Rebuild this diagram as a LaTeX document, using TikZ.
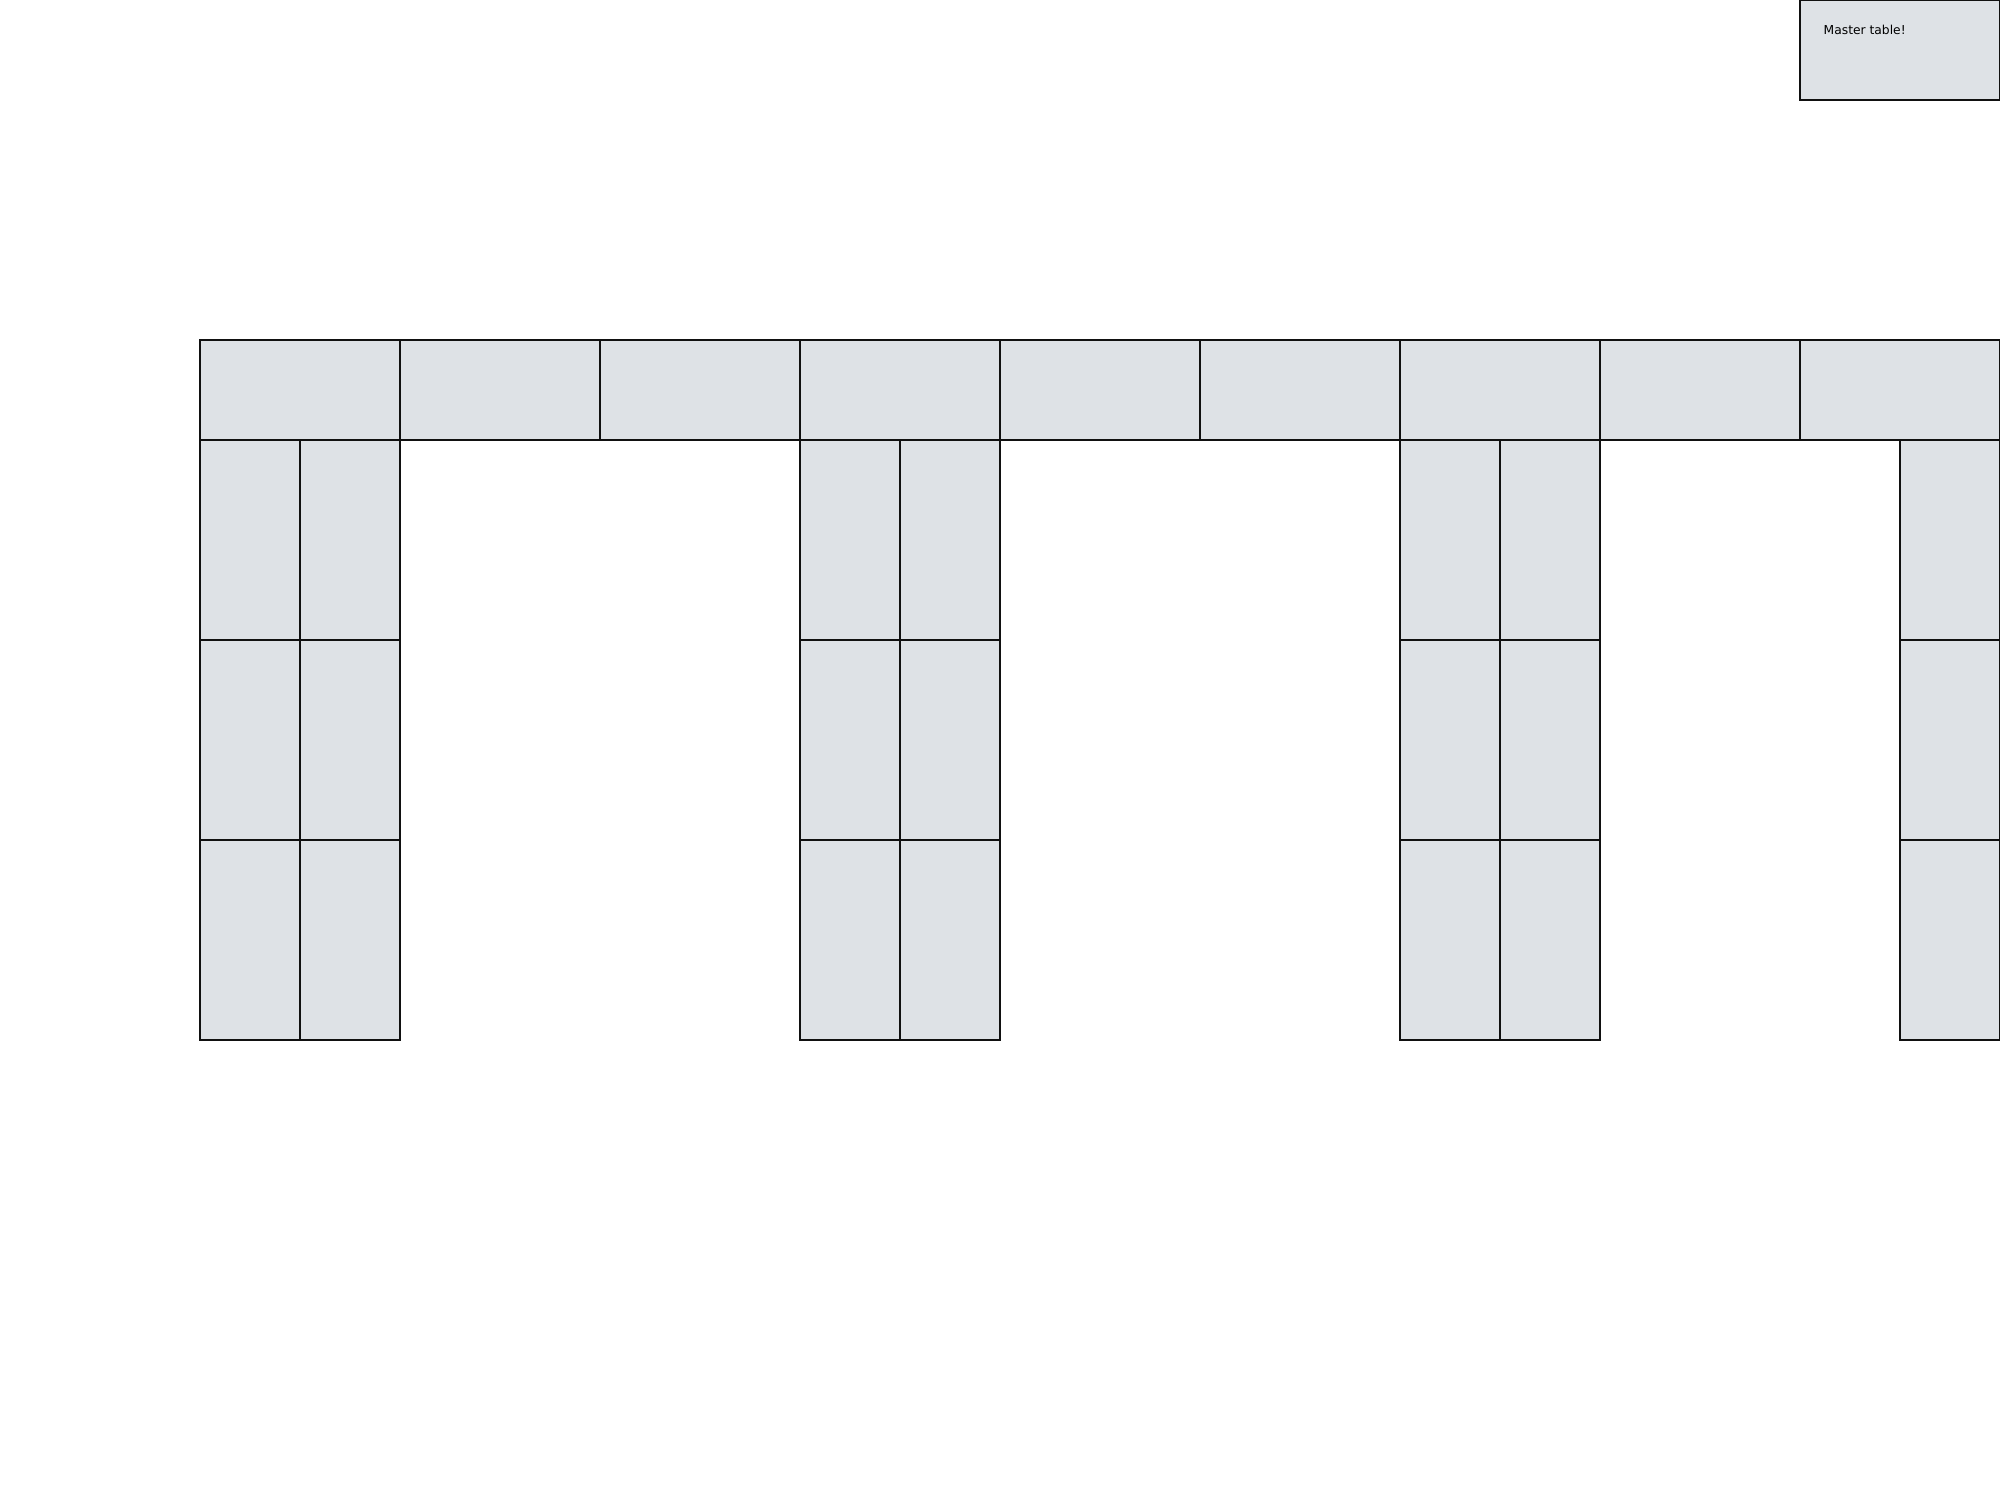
\documentclass[tikz,border=0pt]{standalone}
\usepackage{fontspec}
\setsansfont{DejaVu Sans}
\usepackage{xcolor}
\usetikzlibrary{positioning}
\definecolor{cellgrey}{HTML}{DEE2E6}
\definecolor{edgeblack}{HTML}{111111}
\tikzset{
  cell/.style={rectangle, draw=edgeblack, fill=cellgrey, line width=0.45pt,
               inner sep=0pt, outer sep=0pt},
  topcell/.style={cell, minimum width=2cm, minimum height=1cm},
  legcell/.style={cell, minimum width=1cm, minimum height=2cm},
  note/.style={font=\sffamily\fontsize{3.5}{4}\selectfont, inner sep=0pt, anchor=base west},
}
\begin{document}
\begin{tikzpicture}[node distance=0pt]
  \useasboundingbox (0,0) rectangle (20,-15);

  % master table
  \node[cell, minimum width=2cm, minimum height=1cm] (master) at (19,-0.5) {};
  \node[note] (mlabel) at (18.23,-0.34) {Master table!};

  % top row
  \node[topcell] (t1) at (3,-3.9) {};
  \node[topcell, right=of t1] (t2) {};
  \node[topcell, right=of t2] (t3) {};
  \node[topcell, right=of t3] (t4) {};
  \node[topcell, right=of t4] (t5) {};
  \node[topcell, right=of t5] (t6) {};
  \node[topcell, right=of t6] (t7) {};
  \node[topcell, right=of t7] (t8) {};
  \node[topcell, right=of t8] (t9) {};

  % legs under t1
  \node[legcell, below right=0pt and 0pt of t1.south west] (a1) {};
  \node[legcell, right=of a1] (b1) {};
  \node[legcell, below=of a1] (a2) {};
  \node[legcell, right=of a2] (b2) {};
  \node[legcell, below=of a2] (a3) {};
  \node[legcell, right=of a3] (b3) {};

  % legs under t4
  \node[legcell, below right=0pt and 0pt of t4.south west] (c1) {};
  \node[legcell, right=of c1] (d1) {};
  \node[legcell, below=of c1] (c2) {};
  \node[legcell, right=of c2] (d2) {};
  \node[legcell, below=of c2] (c3) {};
  \node[legcell, right=of c3] (d3) {};

  % legs under t7
  \node[legcell, below right=0pt and 0pt of t7.south west] (e1) {};
  \node[legcell, right=of e1] (f1) {};
  \node[legcell, below=of e1] (e2) {};
  \node[legcell, right=of e2] (f2) {};
  \node[legcell, below=of e2] (e3) {};
  \node[legcell, right=of e3] (f3) {};

  % leg under t9
  \node[legcell, below left=0pt and 0pt of t9.south east] (g1) {};
  \node[legcell, below=of g1] (g2) {};
  \node[legcell, below=of g2] (g3) {};
\end{tikzpicture}
\end{document}
